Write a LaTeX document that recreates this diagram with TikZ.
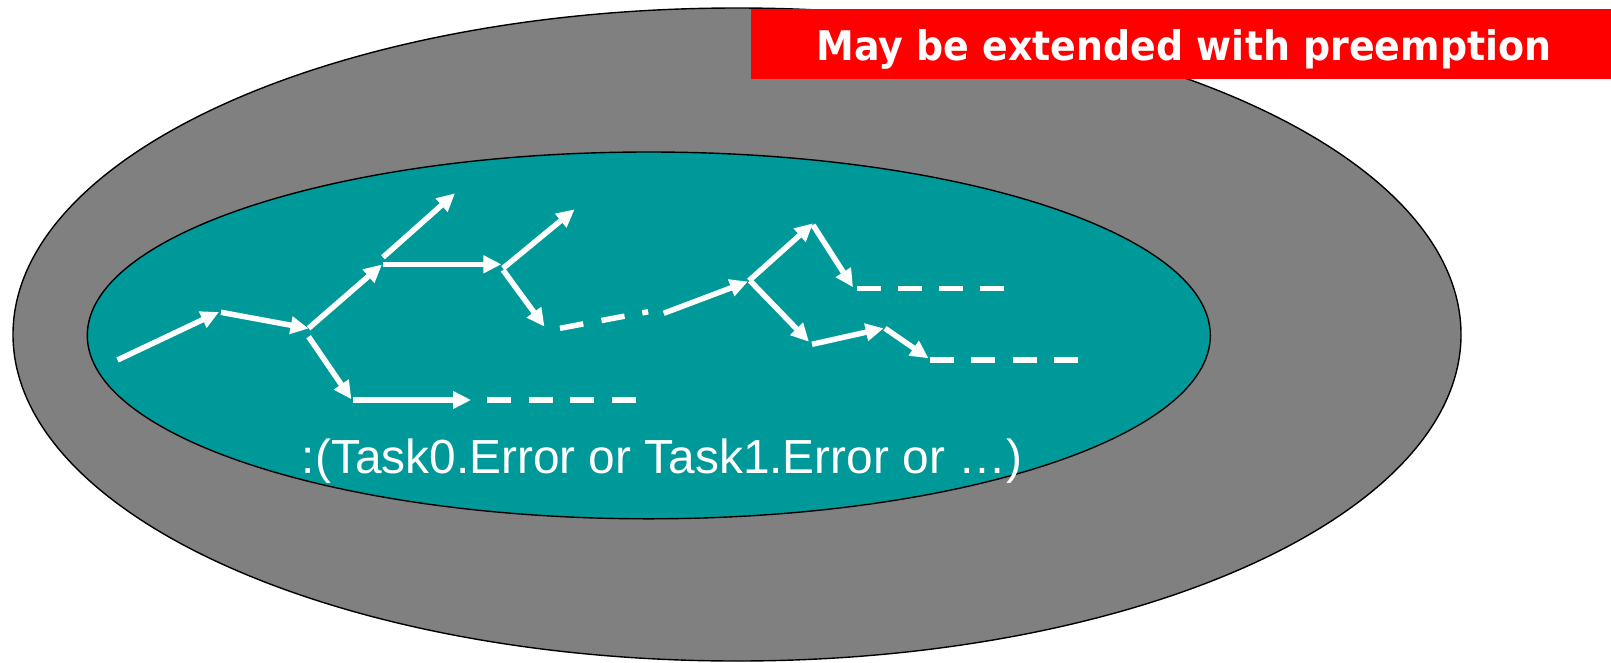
\documentclass[tikz,border=0pt]{standalone}
\usepackage{fontspec}
\setmainfont{Liberation Sans}
\newfontfamily\bannerfont{DejaVu Sans}
\usetikzlibrary{arrows.meta}

\definecolor{outergray}{RGB}{128,128,128}
\definecolor{innerteal}{RGB}{0,153,153}
\definecolor{bannerred}{RGB}{255,0,0}

\tikzset{
  flow/.style={draw=white, line width=5.5pt, line cap=butt,
    -{Triangle[length=18pt,width=17pt]}},
  flowplain/.style={draw=white, line width=5.5pt, line cap=butt},
  trail/.style={draw=white, line width=5.5pt, line cap=butt,
    dash pattern=on 24pt off 17.5pt},
  rim/.style={draw=black, line width=1.4pt},
}

\begin{document}
\begin{tikzpicture}[x=1pt, y=-1pt]
  \useasboundingbox (0,0) rectangle (1611,662);

  % nested regions
  \path[rim, fill=outergray] (737,334.5) ellipse [x radius=724, y radius=326.5];
  \path[rim, fill=innerteal] (648.8,335.4) ellipse [x radius=561.5, y radius=183.4];

  % points of the execution traces
  \coordinate (a0) at (117.5,360);
  \coordinate (a1) at (219,312);
  \coordinate (a1s) at (221,312.3);
  \coordinate (a2) at (308.6,328.5);
  \coordinate (a2s) at (308.6,328.3);
  \coordinate (a3) at (382,264.5);
  \coordinate (a3s) at (383,264.3);
  \coordinate (a4) at (501.4,264.3);
  \coordinate (b0) at (383,257.3);
  \coordinate (b1) at (455,193.3);
  \coordinate (c0) at (308.6,336.7);
  \coordinate (c1) at (351.4,399.3);
  \coordinate (c2) at (353,400);
  \coordinate (c3) at (471,400);
  \coordinate (d0) at (487,400);
  \coordinate (d1) at (637,400);
  \coordinate (e0) at (503,268.3);
  \coordinate (e1) at (574.6,209.3);
  \coordinate (f0) at (503,270);
  \coordinate (f1) at (544.5,326.7);
  \coordinate (g0) at (560,328.3);
  \coordinate (g1) at (648.4,311.7);
  \coordinate (h0) at (663.7,313.3);
  \coordinate (h1) at (748,281.5);
  \coordinate (i0) at (749,280.7);
  \coordinate (i1) at (813,223.3);
  \coordinate (j0) at (813,225);
  \coordinate (j1) at (853,287.3);
  \coordinate (k0) at (857,288.3);
  \coordinate (k1) at (1005,288.3);
  \coordinate (l0) at (750,280.7);
  \coordinate (l1) at (809,341.7);
  \coordinate (m0) at (812,344.3);
  \coordinate (m1) at (883.7,328.3);
  \coordinate (n0) at (885,328.3);
  \coordinate (n1) at (928.5,358.3);
  \coordinate (o0) at (929.7,360);
  \coordinate (o1) at (1080,360);

  % traces
  \draw[flow] (a0) -- (a1);
  \draw[flow] (a1s) -- (a2);
  \draw[flow] (a2s) -- (a3);
  \draw[flow] (a3s) -- (a4);
  \draw[flow] (b0) -- (b1);
  \draw[flow] (c0) -- (c1);
  \draw[flow] (c2) -- (c3);
  \draw[trail] (d0) -- (d1);
  \draw[flow] (e0) -- (e1);
  \draw[flow] (f0) -- (f1);
  \draw[flowplain, dash pattern=on 23.7pt off 18.5pt on 23.5pt off 18pt on 6pt off 20pt] (g0) -- (g1);
  \draw[flow] (h0) -- (h1);
  \draw[flow] (i0) -- (i1);
  \draw[flow] (j0) -- (j1);
  \draw[trail, dash pattern=on 23.5pt off 17.5pt] (k0) -- (k1);
  \draw[flow] (l0) -- (l1);
  \draw[flow] (m0) -- (m1);
  \draw[flow] (n0) -- (n1);
  \draw[trail] (o0) -- (o1);

  % condition label
  \node[anchor=base, text=white, inner sep=0pt] (cond) at (662,473.5)
    {\resizebox{720pt}{!}{\fontsize{47}{50}\selectfont :(Task0.Error or Task1.Error or \dots)}};

  % banner
  \fill[bannerred] (751,9) rectangle (1611,79);
  \node[anchor=base, text=white, inner sep=0pt] (banner) at (1184,60.7)
    {\resizebox{735pt}{31pt}{\bannerfont\bfseries May be extended with preemption}};
\end{tikzpicture}
\end{document}
